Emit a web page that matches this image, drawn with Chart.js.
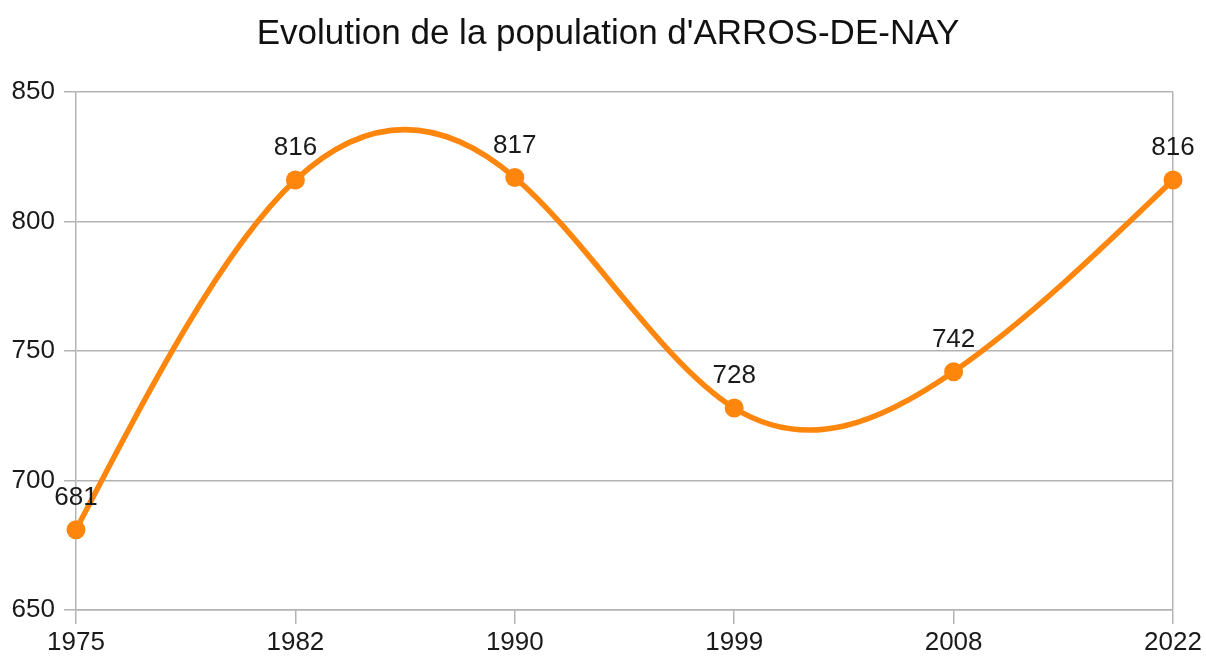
<!DOCTYPE html>
<html>
<head>
<meta charset="utf-8">
<script src="https://cdn.jsdelivr.net/npm/chart.js@4.4.0/dist/chart.umd.min.js"></script>
<style>
    html, body { margin: 0; padding: 0; background: #fff; }
    #wrap { width: 1206px; height: 657px; }
</style>
</head>
<body>
<div id="wrap"><canvas id="popChart"></canvas></div>
<script>
// Years and population values
const years = ['1975', '1982', '1990', '1999', '2008', '2022'];
const population = [681, 816, 817, 728, 742, 816];
const yTicks = [650, 700, 750, 800, 850];
const chartTitle = "Evolution de la population d'ARROS-DE-NAY";

const orange = '#ff860d';
const gridGrey = '#b3b3b3';
const fontFamily = '"Liberation Sans", Arial, sans-serif';

// Natural cubic spline through the point positions given by the scales
const splineLine = {
    id: 'splineLine',
    beforeDatasetsDraw(chart) {
        const pts = chart.getDatasetMeta(0).data;
        const n = pts.length;
        const x = pts.map(p => p.x), y = pts.map(p => p.y);
        const h = [];
        for (let i = 0; i < n - 1; i++) h.push(x[i + 1] - x[i]);

        // solve for second derivatives (M0 = Mn-1 = 0)
        const M = new Array(n).fill(0);
        const a = [], b = [], c = [], d = [];
        for (let i = 1; i < n - 1; i++) {
            a.push(h[i - 1]);
            b.push(2 * (h[i - 1] + h[i]));
            c.push(h[i]);
            d.push(6 * ((y[i + 1] - y[i]) / h[i] - (y[i] - y[i - 1]) / h[i - 1]));
        }
        const m = b.length;
        for (let i = 1; i < m; i++) {
            const w = a[i] / b[i - 1];
            b[i] -= w * c[i - 1];
            d[i] -= w * d[i - 1];
        }
        const sol = new Array(m);
        sol[m - 1] = d[m - 1] / b[m - 1];
        for (let i = m - 2; i >= 0; i--) sol[i] = (d[i] - c[i] * sol[i + 1]) / b[i];
        for (let i = 0; i < m; i++) M[i + 1] = sol[i];

        const ctx = chart.ctx;
        ctx.save();
        ctx.strokeStyle = orange;
        ctx.lineWidth = 5.5;
        ctx.lineJoin = 'round';
        ctx.lineCap = 'round';
        ctx.beginPath();
        ctx.moveTo(x[0], y[0]);
        for (let i = 0; i < n - 1; i++) {
            const dy = (y[i + 1] - y[i]) / h[i];
            const s0 = dy - h[i] * (2 * M[i] + M[i + 1]) / 6;
            const s1 = dy + h[i] * (M[i] + 2 * M[i + 1]) / 6;
            ctx.bezierCurveTo(
                x[i] + h[i] / 3, y[i] + s0 * h[i] / 3,
                x[i + 1] - h[i] / 3, y[i + 1] - s1 * h[i] / 3,
                x[i + 1], y[i + 1]
            );
        }
        ctx.stroke();
        ctx.restore();
    }
};

// Title and the value above each point
const textLayer = {
    id: 'textLayer',
    afterDatasetsDraw(chart) {
        const ctx = chart.ctx;
        const meta = chart.getDatasetMeta(0);
        ctx.save();
        ctx.fillStyle = '#111';
        ctx.textAlign = 'center';
        ctx.textBaseline = 'middle';
        ctx.font = '35px ' + fontFamily;
        ctx.fillText(chartTitle, 608, 34);

        ctx.font = '26px ' + fontFamily;
        ctx.fillStyle = '#1a1a1a';
        meta.data.forEach((pt, i) => {
            ctx.fillText(population[i], pt.x, pt.y - 32);
        });
        ctx.restore();
    }
};

const ctx = document.getElementById('popChart').getContext('2d');

new Chart(ctx, {
    type: 'line',
    data: {
        labels: years,
        datasets: [{
            data: population,
            showLine: false,
            borderColor: orange,
            backgroundColor: orange,
            pointRadius: 9.5,
            pointHoverRadius: 9.5,
            pointBorderWidth: 0,
            clip: false
        }]
    },
    options: {
        responsive: true,
        maintainAspectRatio: false,
        animation: false,
        layout: {
            padding: { left: 0, right: 33, top: 92, bottom: 0 }
        },
        plugins: {
            legend: { display: false },
            tooltip: { enabled: false },
            title: { display: false }
        },
        scales: {
            x: {
                offset: false,
                grid: {
                    color: (c) => c.index === years.length - 1 ? gridGrey : 'rgba(0,0,0,0)',
                    tickColor: gridGrey,
                    tickLength: 14,
                    lineWidth: 1.5
                },
                border: { display: true, color: gridGrey, width: 1.5 },
                ticks: {
                    color: '#1a1a1a',
                    font: { family: fontFamily, size: 26 },
                    padding: 3,
                    maxRotation: 0
                },
                afterFit: (scale) => { scale.height = 47; }
            },
            y: {
                min: 650,
                max: 850,
                afterBuildTicks: (scale) => { scale.ticks = yTicks.map(v => ({ value: v })); },
                grid: {
                    color: gridGrey,
                    tickColor: gridGrey,
                    tickLength: 12,
                    lineWidth: 1.5
                },
                border: { display: true, color: gridGrey, width: 1.5 },
                ticks: {
                    color: '#1a1a1a',
                    font: { family: fontFamily, size: 26 },
                    padding: 9
                },
                afterFit: (scale) => { scale.width = 76; }
            }
        }
    },
    plugins: [splineLine, textLayer]
});
</script>
</body>
</html>
